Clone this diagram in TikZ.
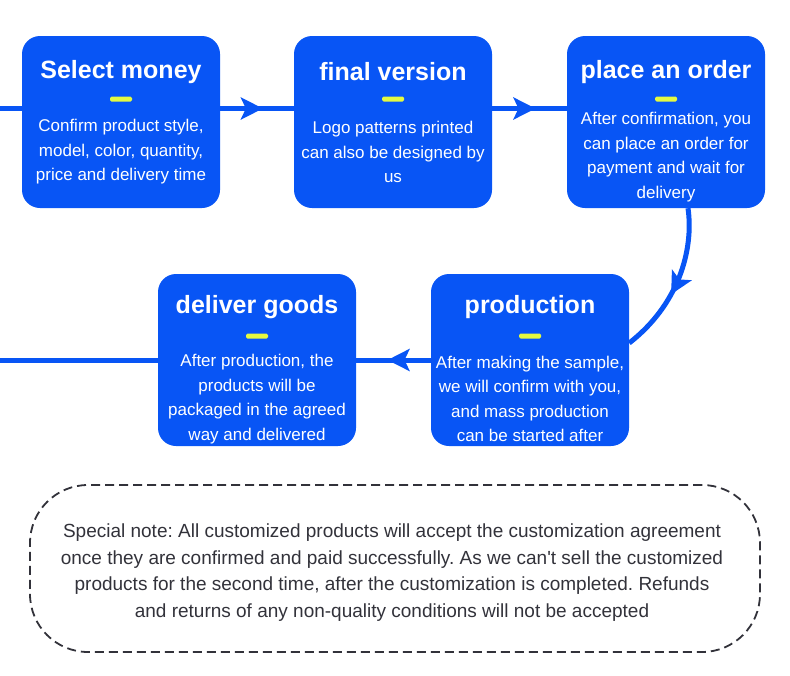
\documentclass[tikz,border=0pt]{standalone}
\usepackage{fontspec}
\setmainfont{Liberation Sans}
\usetikzlibrary{arrows.meta,decorations.markings}
\definecolor{stepblue}{RGB}{8,85,245}
\definecolor{dashyellow}{RGB}{228,250,64}
\definecolor{notegray}{RGB}{50,50,58}
\frenchspacing

\begin{document}
\begin{tikzpicture}
[every node/.style={inner sep=0pt},
 stepbox/.style={rectangle, rounded corners=18pt, fill=stepblue, minimum width=198pt, minimum height=172pt},
 steptitle/.style={text=white, font=\bfseries\fontsize{25}{29}\selectfont},
 stepmark/.style={rectangle, rounded corners=1.5pt, fill=dashyellow, minimum width=22pt, minimum height=5pt},
 steptext/.style={text=white, align=center, font=\fontsize{17}{24.5}\selectfont},
 flow/.style={line width=5pt, color=stepblue, postaction={decorate},
   decoration={markings, mark=at position 0.58 with {\arrow{Stealth[length=22pt, width=22pt, inset=5pt]}}}},
 plain/.style={line width=5pt, color=stepblue}]
\useasboundingbox (0pt, 0pt) rectangle (790pt, -675pt);
% steps
\node (b1) [stepbox] at (121pt, -122pt) {};
\node (b2) [stepbox] at (393pt, -122pt) {};
\node (b3) [stepbox] at (666pt, -122pt) {};
\node (b4) [stepbox] at (257pt, -360pt) {};
\node (b5) [stepbox] at (530pt, -360pt) {};
\node (t1) [steptitle] at (121pt, -72pt) {Select money};
\node (t2) [steptitle] at (393pt, -72pt) {final version};
\node (t3) [steptitle] at (666pt, -72pt) {place an order};
\node (t4) [steptitle] at (257pt, -307pt) {deliver goods};
\node (t5) [steptitle] at (530pt, -307pt) {production};
\node (m1) [stepmark] at (121pt, -99pt) {};
\node (m2) [stepmark] at (393pt, -99pt) {};
\node (m3) [stepmark] at (666pt, -99pt) {};
\node (m4) [stepmark] at (257pt, -336pt) {};
\node (m5) [stepmark] at (530pt, -336pt) {};
\node (d1) [steptext] at (121pt, -152pt) {Confirm product style,\\model, color, quantity,\\price and delivery time};
\node (d2) [steptext] at (393pt, -152pt) {Logo patterns printed\\can also be designed by\\us};
\node (d3) [steptext] at (666pt, -157pt) {After confirmation, you\\can place an order for\\payment and wait for\\delivery};
\node (d4) [steptext] at (257pt, -399pt) {After production, the\\products will be\\packaged in the agreed\\way and delivered};
\node (d5) [steptext] at (530pt, -399pt) {After making the sample,\\we will confirm with you,\\and mass production\\can be started after};
% connectors
\coordinate (in) at (0pt, -108.5pt);
\coordinate (out) at (0pt, -360pt);
\draw [plain] (in) to ([yshift=13.5pt]b1.west);
\draw [flow] ([yshift=13.5pt]b1.east) to ([yshift=13.5pt]b2.west);
\draw [flow] ([yshift=13.5pt]b2.east) to ([yshift=13.5pt]b3.west);
\draw [flow] ([xshift=22pt]b3.south) .. controls ([xshift=28pt, yshift=-42pt]b3.south) and ([xshift=49pt, yshift=55pt]b5.east) .. ([yshift=17pt]b5.east);
\draw [flow] (b5.west) to (b4.east);
\draw [plain] (b4.west) to (out);
% note
\node (note) [rectangle, rounded corners=58pt, draw=notegray, line width=1.8pt, dash pattern=on 9pt off 5pt, minimum width=730pt, minimum height=167pt] at (395pt, -568.5pt) {};
\node (notetext) [text=notegray, align=center, font=\fontsize{19}{26.7}\selectfont] at (392pt, -572.5pt) {Special note: All customized products will accept the customization agreement\\once they are confirmed and paid successfully. As we can\textquotesingle t sell the customized\\products for the second time, after the customization is completed. Refunds\\and returns of any non-quality conditions will not be accepted};
\end{tikzpicture}
\end{document}
